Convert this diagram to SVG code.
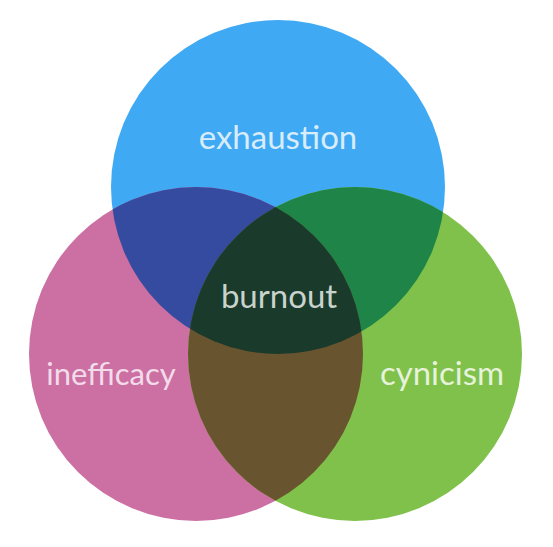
<svg xmlns="http://www.w3.org/2000/svg" width="553" height="547" viewBox="0 0 553 547">
<style>
text{font-family:Lato,"Open Sans","Liberation Sans",sans-serif;font-size:33px;text-anchor:middle}
</style>
<defs>
<clipPath id="cB"><circle cx="278" cy="187" r="167"/></clipPath>
<clipPath id="cP"><circle cx="196" cy="354" r="167"/></clipPath>
<clipPath id="cG"><circle cx="355" cy="354" r="167"/></clipPath>
</defs>
<rect width="553" height="547" fill="#ffffff"/>
<g id="exhaustion">
<circle cx="278" cy="187" r="167" fill="#3fa9f4"/>
</g>
<g id="inefficacy">
<circle cx="196" cy="354" r="167" fill="#cc6fa3"/>
</g>
<g id="cynicism">
<circle cx="355" cy="354" r="167" fill="#7fc14a"/>
</g>
<g id="overlaps">
<g clip-path="url(#cB)"><circle cx="196" cy="354" r="167" fill="#344ba0"/><circle cx="355" cy="354" r="167" fill="#1f8447"/></g>
<g clip-path="url(#cP)"><circle cx="355" cy="354" r="167" fill="#68552f"/></g>
</g>
<g id="burnout">
<g clip-path="url(#cB)"><g clip-path="url(#cP)"><circle cx="355" cy="354" r="167" fill="#1a3a2c"/></g></g>
<text x="279" y="308" fill="#c9d3cc">burnout</text>
</g>
<g id="labels">
<text x="278" y="149" fill="#d8ecfa">exhaustion</text>
<text x="111" y="385" style="font-size:31px" fill="#f3dce9">inefficacy</text>
<text x="442" y="385" fill="#e6f2da">cynicism</text>
</g>
</svg>
